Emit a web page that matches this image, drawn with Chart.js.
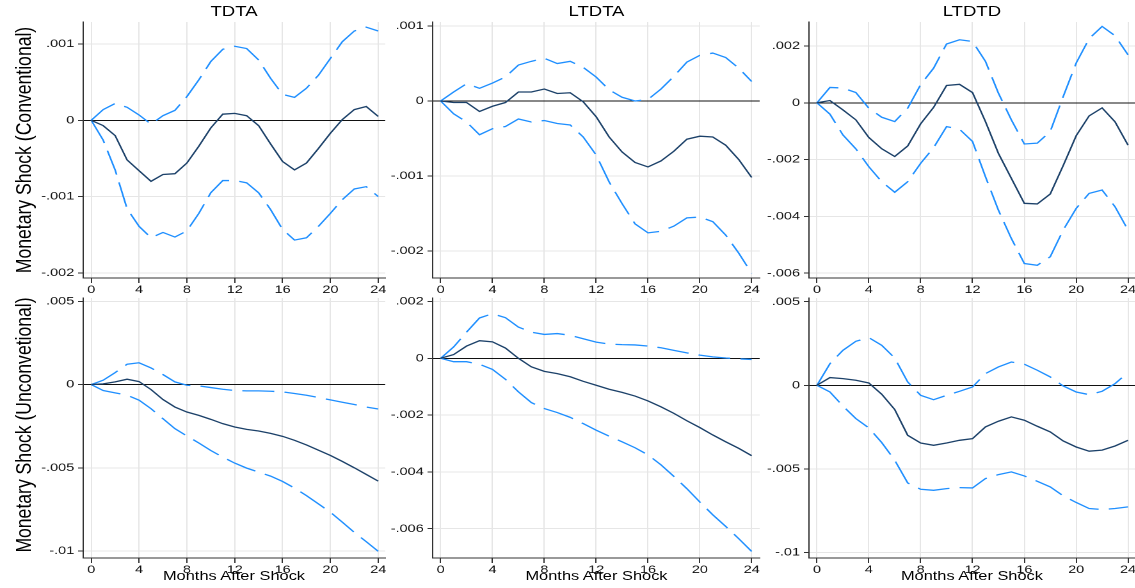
<!DOCTYPE html>
<html><head><meta charset="utf-8">
<script src="https://cdn.jsdelivr.net/npm/chart.js@4.4.1/dist/chart.umd.min.js"></script>
<style>
html,body{margin:0;padding:0;background:#fff;width:1135px;height:588px;overflow:hidden;}
#wrap{position:absolute;left:0;top:0;width:887px;height:588px;transform:scaleX(1.28);transform-origin:0 0;font-family:"Liberation Sans",Arial,Helvetica,sans-serif;color:#000;}
#wrap canvas{position:absolute;}
.t{position:absolute;white-space:nowrap;transform:translateX(-50%);line-height:1;}
.yl{position:absolute;white-space:nowrap;line-height:1;transform:translate(-50%,-50%) rotate(-90deg);font-size:17.6px;}
</style></head><body><div id="wrap"></div>
<script>
// ---------- data ----------
const months = [0,1,2,3,4,5,6,7,8,9,10,11,12,13,14,15,16,17,18,19,20,21,22,23,24];
const xTicks = [0,4,8,12,16,20,24];
const colTitles = ['TDTA','LTDTA','LTDTD'];
const rowTitles = ['Monetary Shock (Conventional)','Monetary Shock (Unconvetional)'];
const xTitle = 'Months After Shock';

// Conventional shock
const tdtaConvIrf = [0,-0.00007,-0.0002,-0.00052,-0.00066,-0.0008,-0.00071,-0.0007,-0.00056,-0.00034,-0.0001,0.00008,0.00009,0.00006,-0.00007,-0.00031,-0.00054,-0.00065,-0.00056,-0.00037,-0.00017,0.00001,0.00014,0.00018,0.00005];
const tdtaConvUp  = [0,0.00014,0.00022,0.00017,0.00007,-0.00005,0.00006,0.00013,0.00031,0.00053,0.00077,0.00093,0.00097,0.00094,0.00079,0.00055,0.00034,0.0003,0.00042,0.00059,0.00081,0.00103,0.00117,0.00122,0.00117];
const tdtaConvLo  = [0,-0.00026,-0.00065,-0.00116,-0.00139,-0.00154,-0.00147,-0.00153,-0.00145,-0.00122,-0.00095,-0.00079,-0.00079,-0.00082,-0.00095,-0.00117,-0.00143,-0.00157,-0.00154,-0.00139,-0.00122,-0.00104,-0.0009,-0.00087,-0.001];

const ltdtaConvIrf = [0,-0.00002,-0.00002,-0.00014,-0.00007,-0.00002,0.00012,0.00012,0.00016,0.0001,0.00011,-0.00001,-0.00021,-0.00048,-0.00068,-0.00082,-0.00088,-0.0008,-0.00067,-0.00051,-0.00047,-0.00048,-0.00059,-0.00078,-0.00102];
const ltdtaConvUp  = [0,0.00012,0.00023,0.00017,0.00024,0.00032,0.00048,0.00053,0.00057,0.0005,0.00053,0.00045,0.00032,0.00015,0.00005,0.0,0.00002,0.00016,0.00033,0.00052,0.00061,0.00064,0.00058,0.00044,0.00026];
const ltdtaConvLo  = [0,-0.00017,-0.00028,-0.00045,-0.00037,-0.00034,-0.00024,-0.00028,-0.00026,-0.0003,-0.00032,-0.00048,-0.00072,-0.00108,-0.00137,-0.00164,-0.00176,-0.00174,-0.00167,-0.00156,-0.00155,-0.00161,-0.00179,-0.00203,-0.0023];

const ltdtdConvIrf = [0,0.00008,-0.00025,-0.0006,-0.00122,-0.00162,-0.00189,-0.00152,-0.00074,-0.00016,0.00061,0.00065,0.00036,-0.00066,-0.00178,-0.00266,-0.00354,-0.00356,-0.00321,-0.00221,-0.00116,-0.00046,-0.00018,-0.00067,-0.00149];
const ltdtdConvUp  = [0,0.00054,0.00052,0.00036,-0.00019,-0.00051,-0.00066,-0.00019,0.00064,0.00122,0.00207,0.00222,0.00216,0.00146,0.00034,-0.0006,-0.00145,-0.00142,-0.00101,0.00022,0.0014,0.00226,0.00269,0.00236,0.00169];
const ltdtdConvLo  = [0,-0.0004,-0.00113,-0.00162,-0.00225,-0.00278,-0.00315,-0.00278,-0.00213,-0.00158,-0.00084,-0.00093,-0.00136,-0.0026,-0.00378,-0.00478,-0.00566,-0.00572,-0.00542,-0.00448,-0.00372,-0.00319,-0.00307,-0.00366,-0.00448];

// Unconventional shock
const tdtaUncIrf = [0,0.00004,0.00016,0.00032,0.00018,-0.0003,-0.0009,-0.00135,-0.00165,-0.00185,-0.00209,-0.00235,-0.00255,-0.00269,-0.00279,-0.00293,-0.00311,-0.00335,-0.00363,-0.00394,-0.00426,-0.00462,-0.005,-0.0054,-0.0058];
const tdtaUncUp  = [0,0.00026,0.00072,0.00122,0.00131,0.001,0.0006,0.00016,-0.00004,-0.00008,-0.00018,-0.00028,-0.00036,-0.00038,-0.00038,-0.0004,-0.00044,-0.00054,-0.00064,-0.00078,-0.00092,-0.00106,-0.0012,-0.00135,-0.00147];
const tdtaUncLo  = [0,-0.00036,-0.0005,-0.00064,-0.00094,-0.00145,-0.00205,-0.00265,-0.00309,-0.00351,-0.00396,-0.00436,-0.00472,-0.00502,-0.00526,-0.0055,-0.00582,-0.00622,-0.00667,-0.00717,-0.00767,-0.00827,-0.00888,-0.00944,-0.01002];

const ltdtaUncIrf = [0,0.00013,0.00043,0.00062,0.00058,0.00036,0.0,-0.0003,-0.00046,-0.00054,-0.00065,-0.00081,-0.00095,-0.00109,-0.0012,-0.00133,-0.0015,-0.00171,-0.00194,-0.0022,-0.00244,-0.0027,-0.00294,-0.00317,-0.00343];
const ltdtaUncUp  = [0,0.0004,0.00092,0.00142,0.00157,0.00143,0.0011,0.00092,0.00084,0.00087,0.00081,0.00069,0.00057,0.0005,0.00048,0.00047,0.00043,0.00037,0.00028,0.00019,0.00011,0.00005,0.00001,-0.00002,-0.00004];
const ltdtaUncLo  = [0,-0.00012,-0.00012,-0.00021,-0.00039,-0.00074,-0.00118,-0.00156,-0.00177,-0.00191,-0.00208,-0.0023,-0.00253,-0.00274,-0.00294,-0.00315,-0.0034,-0.00375,-0.00416,-0.00459,-0.00506,-0.00551,-0.00592,-0.00635,-0.0068];

const ltdtdUncIrf = [0,0.00046,0.0004,0.0003,0.00014,-0.00054,-0.00145,-0.00299,-0.00345,-0.00359,-0.00345,-0.00329,-0.00319,-0.00249,-0.00215,-0.00189,-0.00209,-0.00245,-0.00279,-0.00333,-0.00369,-0.00394,-0.00388,-0.00363,-0.00329];
const ltdtdUncUp  = [0,0.00129,0.00209,0.00263,0.00285,0.00239,0.00163,0.0002,-0.0006,-0.00086,-0.0006,-0.00036,-0.0001,0.0007,0.0011,0.00139,0.00126,0.0009,0.0005,-0.00004,-0.0004,-0.00056,-0.00036,0.0001,0.00076];
const ltdtdUncLo  = [0,-0.0004,-0.00124,-0.00199,-0.00255,-0.00343,-0.00448,-0.00584,-0.00622,-0.00628,-0.00618,-0.00612,-0.00614,-0.00558,-0.00534,-0.00518,-0.00542,-0.00574,-0.00608,-0.00661,-0.00701,-0.00737,-0.00743,-0.00737,-0.00727];

// tick values / labels
const yTicks1 = [0.001,0,-0.001,-0.002];           const yLabels1 = ['.001','0','-.001','-.002'];
const yTicks2 = [0.002,0,-0.002,-0.004,-0.006];    const yLabels2 = ['.002','0','-.002','-.004','-.006'];
const yTicks5 = [0.005,0,-0.005,-0.01];            const yLabels5 = ['.005','0','-.005','-.01'];

// ---------- layout ----------
const S = 1.28;            // horizontal stretch of the whole figure
const FONT = '"Liberation Sans", Arial, Helvetica, sans-serif';
const wrap = document.getElementById('wrap');

const panels = [
  {irf:tdtaConvIrf,  up:tdtaConvUp,  lo:tdtaConvLo,  yt:yTicks1, yl:yLabels1, ymin:-0.002067, ymax:0.001288, L:83,    R:385,  T:22,    B:278,   xmin:-0.669, xmax:24.585},
  {irf:ltdtaConvIrf, up:ltdtaConvUp, lo:ltdtaConvLo, yt:yTicks1, yl:yLabels1, ymin:-0.002363, ymax:0.001055, L:433,   R:760,  T:22,    B:278,   xmin:-0.617, xmax:24.617},
  {irf:ltdtdConvIrf, up:ltdtdConvUp, lo:ltdtdConvLo, yt:yTicks2, yl:yLabels2, ymin:-0.006169, ymax:0.002845, L:808.7, R:1135, T:22,    B:278,   xmin:-0.617, xmax:24.56},
  {irf:tdtaUncIrf,   up:tdtaUncUp,   lo:tdtaUncLo,   yt:yTicks5, yl:yLabels5, ymin:-0.01042,  ymax:0.0052,   L:83,    R:385,  T:297.7, B:557.7, xmin:-0.669, xmax:24.585},
  {irf:ltdtaUncIrf,  up:ltdtaUncUp,  lo:ltdtaUncLo,  yt:yTicks2, yl:yLabels2, ymin:-0.007032, ymax:0.002123, L:433,   R:760,  T:297.7, B:557.7, xmin:-0.617, xmax:24.617},
  {irf:ltdtdUncIrf,  up:ltdtdUncUp,  lo:ltdtdUncLo,  yt:yTicks5, yl:yLabels5, ymin:-0.01033,  ymax:0.005221, L:808.7, R:1135, T:297.7, B:557.7, xmin:-0.617, xmax:24.56}
];

function pts(arr){ return months.map((m,i)=>({x:m, y:arr[i]})); }

function make(p){
  const Ly = 45, pt = 22, Hx = 30;
  const Li = p.L / S, Ri = p.R / S;
  const cw = Math.ceil(Ri - Li + Ly + 20);
  const pr = cw - Ly - (Ri - Li);
  const ch = (p.B - p.T) + pt + Hx;
  const c = document.createElement('canvas');
  c.width = cw; c.height = ch;
  c.style.left = (Li - Ly) + 'px'; c.style.top = (p.T - pt) + 'px';
  c.style.width = cw + 'px'; c.style.height = ch + 'px';
  wrap.appendChild(c);
  const ytAsc = p.yt.slice().sort((a,b)=>a-b);
  new Chart(c, {
    type:'line',
    data:{datasets:[
      {data:pts(p.irf), borderColor:'#1c4169', borderWidth:1.3, pointRadius:0, tension:0, fill:false},
      {data:pts(p.up),  borderColor:'#1f8fff', borderWidth:1.3, borderDash:[25,8], pointRadius:0, tension:0, fill:false},
      {data:pts(p.lo),  borderColor:'#1f8fff', borderWidth:1.3, borderDash:[25,8], pointRadius:0, tension:0, fill:false}
    ]},
    options:{
      responsive:false, animation:false, devicePixelRatio:2, events:[],
      layout:{padding:{top:pt, right:pr, left:0, bottom:0}},
      plugins:{legend:{display:false}, tooltip:{enabled:false}, title:{display:false}},
      scales:{
        x:{type:'linear', min:p.xmin, max:p.xmax,
           afterBuildTicks:s=>{ s.ticks = xTicks.map(v=>({value:v})); },
           afterFit:s=>{ s.height = Hx; },
           ticks:{font:{size:11.3, family:FONT}, color:'#111', padding:0, autoSkip:false, maxRotation:0, minRotation:0,
                  callback:v=>String(v)},
           grid:{color:'#e6e6e6', tickColor:'#333', tickLength:5, lineWidth:1},
           border:{color:'#333', width:1}},
        y:{type:'linear', min:p.ymin, max:p.ymax,
           afterBuildTicks:s=>{ s.ticks = ytAsc.map(v=>({value:v})); },
           afterFit:s=>{ s.width = Ly; },
           ticks:{font:{size:11.3, family:FONT}, color:'#111', padding:3, autoSkip:false,
                  callback:v=>{ const i = p.yt.indexOf(v); return i>=0 ? p.yl[i] : ''; }},
           grid:{color:ctx=> (ctx.tick && ctx.tick.value===0) ? '#111' : '#e6e6e6', tickColor:'#333', tickLength:4, lineWidth:1},
           border:{color:'#333', width:1}}
      }
    }
  });
}
panels.forEach(make);

// ---------- text ----------
const colCenters = [234, 596.5, 971.9];
colTitles.forEach((t,i)=>{
  const d = document.createElement('div'); d.className='t'; d.textContent=t;
  d.style.fontSize='14.5px'; d.style.left=(colCenters[i]/S)+'px'; d.style.top='3.5px';
  wrap.appendChild(d);
  const m = document.createElement('div'); m.className='t'; m.textContent=xTitle;
  m.style.fontSize='12.8px'; m.style.left=(colCenters[i]/S)+'px'; m.style.top='570px';
  wrap.appendChild(m);
});
const rowCenters = [150, 425];
rowTitles.forEach((t,i)=>{
  const d = document.createElement('div'); d.className='yl'; d.textContent=t;
  d.style.left=(24/S)+'px'; d.style.top=rowCenters[i]+'px';
  wrap.appendChild(d);
});
</script>
</body></html>
